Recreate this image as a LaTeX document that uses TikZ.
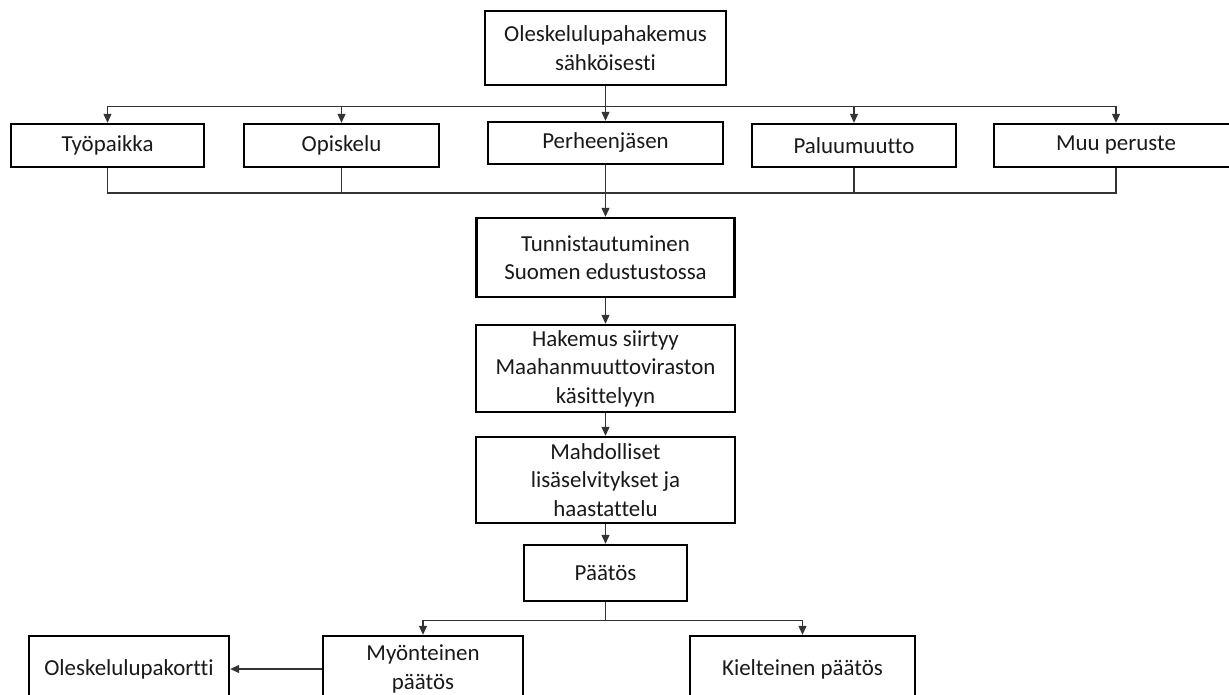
\documentclass[tikz,border=0pt]{standalone}
\usepackage{fontspec}
\setmainfont{Carlito}[Ligatures=NoCommon]
\usetikzlibrary{arrows.meta}

\tikzset{
  box/.style={draw=black, line width=2.4, fill=white, text=black!90, align=center,
    inner sep=0pt, font=\fontsize{22.9}{28.5}\selectfont},
  link/.style={draw=black!80, line width=1.1},
  arrow/.style={link, -{Triangle[length=9,width=8]}},
}

\begin{document}
\begin{tikzpicture}[x=1pt,y=1pt,yscale=-1]
  \useasboundingbox (0,0) rectangle (1229,695);
  \clip (0,0) rectangle (1229,695);

  % Text Node
  \node [box, minimum width=241, minimum height=74] (hakemus) at (605.5,48) {Oleskelulupahakemus\\sähköisesti};
  % Text Node
  \node [box, minimum width=193, minimum height=43] (tyopaikka) at (107.5,145.5) {Työpaikka};
  \node [box, minimum width=195, minimum height=43] (opiskelu) at (341.5,145.5) {Opiskelu};
  \node [box, minimum width=235, minimum height=42] (perhe) at (605.5,143) {Perheenjäsen};
  \node [box, minimum width=204, minimum height=43] (paluu) at (854,145.5) {Paluumuutto};
  \node [box, minimum width=244, minimum height=43] (muu) at (1116,145.5) {Muu peruste};
  % Text Node
  \node [box, minimum width=258, minimum height=79] (tunnistus) at (605.5,257.5) {Tunnistautuminen\\Suomen edustustossa};
  \node [box, minimum width=259, minimum height=87] (siirto) at (605.5,368.5) {Hakemus siirtyy\\Maahanmuuttoviraston\\käsittelyyn};
  \node [box, minimum width=259, minimum height=86] (selvitys) at (605.5,480) {Mahdolliset\\lisäselvitykset ja\\haastattelu};
  \node [box, minimum width=163, minimum height=56] (paatos) at (605.5,573) {Päätös};
  % Text Node
  \node [box, minimum width=200, minimum height=66] (myonteinen) at (423,669) {Myönteinen\\päätös};
  \node [box, minimum width=225, minimum height=66] (kielteinen) at (802.5,669) {Kielteinen päätös};
  \node [box, minimum width=200, minimum height=66] (kortti) at (129,669) {Oleskelulupakortti};

  %Straight Lines
  \foreach \n in {tyopaikka,opiskelu,perhe,paluu,muu}
    \draw [arrow] (hakemus.south) -- ++(0,20) -| (\n.north);

  \coordinate (kooste) at (605.5,193);
  \foreach \n in {tyopaikka,opiskelu,paluu,muu}
    \draw [link] (\n.south) |- (kooste);
  \draw [arrow] (perhe.south) -- (tunnistus.north);

  \draw [arrow] (tunnistus.south) -- (siirto.north);
  \draw [arrow] (siirto.south) -- (selvitys.north);
  \draw [arrow] (selvitys.south) -- (paatos.north);

  \draw [arrow] (paatos.south) -- ++(0,18) -| (myonteinen.north);
  \draw [arrow] (paatos.south) -- ++(0,18) -| (kielteinen.north);
  \draw [arrow] (myonteinen.west) -- (kortti.east);
\end{tikzpicture}
\end{document}
